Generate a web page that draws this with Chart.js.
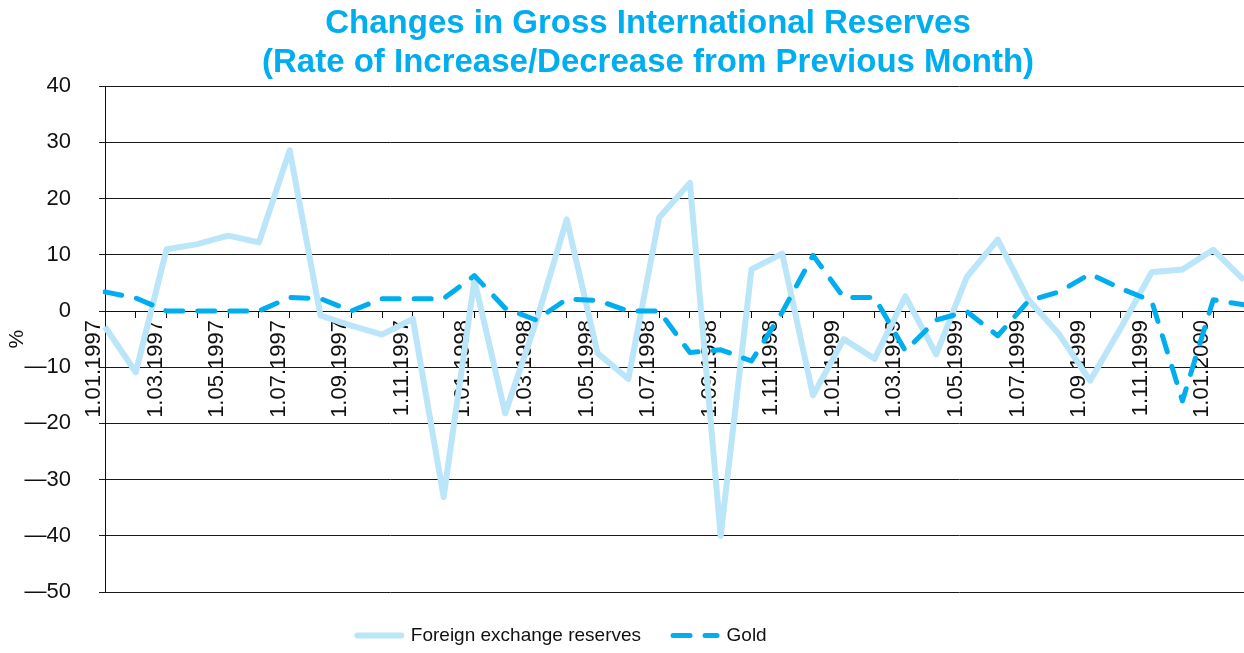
<!DOCTYPE html>
<html>
<head>
<meta charset="utf-8">
<script src="https://cdn.jsdelivr.net/npm/chart.js@4.4.1/dist/chart.umd.min.js"></script>
<style>
  html, body { margin: 0; padding: 0; background: #fff; }
  #wrap { width: 1244px; height: 653px; }
</style>
</head>
<body>
<div id="wrap"><canvas id="c" width="1244" height="653"></canvas></div>
<script>
const months = [
  '1.01.1997','1.02.1997','1.03.1997','1.04.1997','1.05.1997','1.06.1997','1.07.1997','1.08.1997','1.09.1997','1.10.1997','1.11.1997','1.12.1997',
  '1.01.1998','1.02.1998','1.03.1998','1.04.1998','1.05.1998','1.06.1998','1.07.1998','1.08.1998','1.09.1998','1.10.1998','1.11.1998','1.12.1998',
  '1.01.1999','1.02.1999','1.03.1999','1.04.1999','1.05.1999','1.06.1999','1.07.1999','1.08.1999','1.09.1999','1.10.1999','1.11.1999','1.12.1999',
  '1.01.2000','1.02.2000'
];
const foreignExchange = [-2.8, -10.9, 11.0, 11.9, 13.4, 12.2, 28.6, -0.8, -2.6, -4.2, -1.4, -33.1, 5.5, -18.2, -2.0, 16.3, -7.5, -12.1, 16.6, 22.8, -40.0, 7.4, 10.2, -15.0, -5.0, -8.5, 2.6, -7.7, 6.1, 12.7, 2.0, -4.2, -12.4, -3.0, 6.9, 7.4, 10.9, 5.5];
const gold = [3.4, 2.3, 0, 0, 0, 0, 2.4, 2.2, 0, 2.2, 2.2, 2.2, 6.3, 0.5, -1.6, 2.1, 1.9, 0, 0, -7.4, -6.9, -8.9, -0.2, 9.9, 2.4, 2.4, -7.1, -1.6, -0.1, -4.4, 1.8, 3.4, 6.6, 4.0, 1.8, -16.0, 2.0, 1.1];
const yTicks = [40, 30, 20, 10, 0, -10, -20, -30, -40, -50];
const titleLines = ['Changes in Gross International Reserves', '(Rate of Increase/Decrease from Previous Month)'];
const seriesNames = ['Foreign exchange reserves', 'Gold'];

const FONT = "'Liberation Sans', Arial, Helvetica, sans-serif";
const LIGHT = '#BBE5F9';
const BLUE = '#00AEEF';

const shiftPlugin = {
  id: 'shiftBlocks',
  afterLayout(chart) {
    const t = chart.titleBlock;
    if (t) { t.left += 26; t.right += 26; }
    const l = chart.legend;
    if (l) { l.left -= 60; l.right -= 60; l.top += 2; l.bottom += 2; }
  }
};

new Chart(document.getElementById('c'), {
  type: 'line',
  data: {
    labels: months,
    datasets: [
      {
        label: seriesNames[0],
        data: foreignExchange,
        borderColor: LIGHT,
        backgroundColor: LIGHT,
        borderWidth: 6,
        pointRadius: 0,
        tension: 0,
        borderJoinStyle: 'round',
        order: 1
      },
      {
        label: seriesNames[1],
        data: gold,
        borderColor: BLUE,
        backgroundColor: BLUE,
        borderWidth: 5,
        borderDash: [17, 15],
        borderCapStyle: 'round',
        borderJoinStyle: 'round',
        pointRadius: 0,
        tension: 0,
        order: 0
      }
    ]
  },
  options: {
    responsive: false,
    animation: false,
    devicePixelRatio: 1,
    layout: { padding: { left: 0, right: 0, top: 0, bottom: 0 } },
    plugins: {
      tooltip: { enabled: false },
      title: {
        display: true,
        text: titleLines,
        color: BLUE,
        font: { family: FONT, size: 33, weight: 'bold', lineHeight: 1.2 },
        padding: { top: 4, bottom: 3 }
      },
      legend: {
        display: true,
        position: 'bottom',
        labels: {
          usePointStyle: true,
          pointStyle: 'line',
          pointStyleWidth: 44,
          color: '#111',
          font: { family: FONT, size: 19 },
          padding: 32,
          sort: (a, b) => a.datasetIndex - b.datasetIndex,
          generateLabels(chart) {
            const items = Chart.defaults.plugins.legend.labels.generateLabels(chart);
            items.forEach(it => {
              const ds = chart.data.datasets[it.datasetIndex];
              it.lineDash = ds.borderDash || [];
              it.lineWidth = ds.borderWidth;
              it.strokeStyle = ds.borderColor;
              it.fillStyle = ds.borderColor;
              it.lineCap = 'round';
            });
            return items;
          }
        }
      }
    },
    scales: {
      x: {
        type: 'category',
        position: { y: 0 },
        offset: false,
        afterFit(s) { s.paddingLeft = 0; s.paddingRight = 0; },
        grid: { drawOnChartArea: false, drawTicks: true, tickLength: 6, color: '#111', lineWidth: 1 },
        border: { display: true, color: '#111', width: 1 },
        ticks: {
          autoSkip: false,
          maxRotation: 90,
          minRotation: 90,
          labelOffset: -11,
          padding: 3,
          color: '#111',
          font: { family: FONT, size: 22 },
          callback: (v, i) => (i % 2 === 0 ? months[i] : '')
        }
      },
      y: {
        min: -50,
        max: 40,
        afterFit(s) { s.width = 105; },
        afterBuildTicks(s) { s.ticks = yTicks.map(v => ({ value: v })); },
        grid: { color: '#1a1a1a', lineWidth: 1, tickLength: 6, drawTicks: true },
        border: { display: true, color: '#111', width: 1 },
        ticks: {
          padding: 28,
          color: '#111',
          font: { family: FONT, size: 22 },
          callback: (v) => (v < 0 ? '\u2014' + Math.abs(v) : String(v))
        },
        title: {
          display: true,
          text: '%',
          color: '#111',
          font: { family: FONT, size: 21 },
          padding: { top: 5, bottom: 0 }
        }
      }
    }
  },
  plugins: [shiftPlugin]
});
</script>
</body>
</html>
